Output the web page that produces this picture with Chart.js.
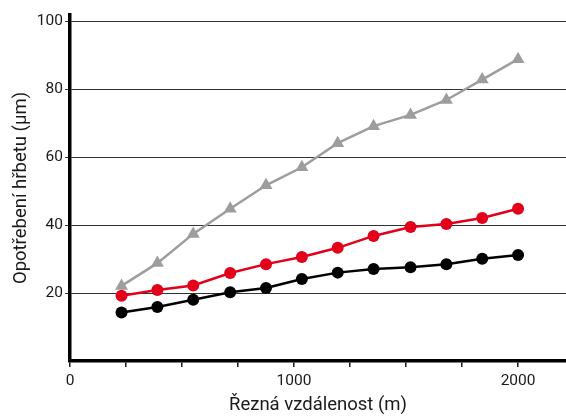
<!DOCTYPE html>
<html>
<head>
<meta charset="utf-8">
<script src="https://cdn.jsdelivr.net/npm/chart.js@4/dist/chart.umd.min.js"></script>
<style>
	html, body { margin: 0; padding: 0; background: #fff; }
	#wrap { width: 566px; height: 416px; }
</style>
</head>
<body>
<div id="wrap"><canvas id="chart"></canvas></div>
<script>
(() => {
	'use strict'

	// Cutting distance (m)
	const distance = [230, 390, 550, 715, 875, 1035, 1195, 1355, 1520, 1680, 1840, 2000];

	// Flank wear (µm) for each series
	const wearGray = [22.1, 28.8, 37.4, 44.8, 51.7, 57.0, 64.1, 69.1, 72.4, 76.8, 82.8, 88.8];
	const wearRed = [19.2, 20.9, 22.2, 25.9, 28.5, 30.6, 33.3, 36.8, 39.4, 40.3, 42.1, 44.8];
	const wearBlack = [14.3, 15.9, 18.0, 20.2, 21.5, 24.1, 26.0, 27.1, 27.6, 28.5, 30.1, 31.2];

	// Tick labels shown on the axes
	const xLabels = [0, 1000, 2000];
	const yTicks = [0, 20, 40, 60, 80, 100];

	const toPoints = (ys) => ys.map((y, i) => ({ x: distance[i], y: y }));

	const fontFamily = 'Roboto, "DejaVu Sans", sans-serif';

	const config = {
		type: 'scatter',
		data: {
			datasets: [
				{
					label: 'A',
					data: toPoints(wearGray),
					showLine: true,
					borderColor: '#9d9d9c',
					backgroundColor: '#9d9d9c',
					borderWidth: 2.5,
					pointStyle: 'triangle',
					pointRadius: 7.5,
					pointBorderWidth: 0,
				},
				{
					label: 'B',
					data: toPoints(wearRed),
					showLine: true,
					borderColor: '#e2001a',
					backgroundColor: '#e2001a',
					borderWidth: 2.5,
					pointRadius: 6,
					pointBorderWidth: 0,
				},
				{
					label: 'C',
					data: toPoints(wearBlack),
					showLine: true,
					borderColor: '#000000',
					backgroundColor: '#000000',
					borderWidth: 2.5,
					pointRadius: 6,
					pointBorderWidth: 0,
				}
			]
		},
		options: {
			responsive: true,
			maintainAspectRatio: false,
			animation: false,
			layout: {
				autoPadding: false,
				padding: { top: 15, right: 0, left: 0, bottom: 0 }
			},
			scales: {
				x: {
					type: 'linear',
					min: 0,
					max: 2214,
					afterFit: (scale) => {
						scale.height = 55;
						scale.paddingLeft = 0;
						scale.paddingRight = 0;
					},
					afterBuildTicks: (scale) => {
						const t = [];
						for (let v = 0; v <= 2000; v += 250) t.push({ value: v });
						scale.ticks = t;
					},
					ticks: {
						autoSkip: false,
						maxRotation: 0,
						padding: 5,
						color: '#1a1a1a',
						font: { family: fontFamily, size: 15.5 },
						callback: (v) => xLabels.includes(v) ? String(v) : '',
					},
					grid: {
						drawOnChartArea: false,
						drawTicks: true,
						tickLength: 6,
						color: '#1a1a1a',
						lineWidth: 1.5,
					},
					border: { display: true, color: '#000', width: 3.5 },
					title: {
						display: true,
						text: 'Řezná vzdálenost (m)',
						color: '#1a1a1a',
						font: { family: fontFamily, size: 18.5 },
						padding: { top: 0, bottom: 0 },
					}
				},
				y: {
					min: 0,
					max: 101.8,
					afterFit: (scale) => {
						scale.width = 70;
						scale.paddingTop = 0;
						scale.paddingBottom = 0;
					},
					afterBuildTicks: (scale) => {
						scale.ticks = yTicks.map((v) => ({ value: v }));
					},
					ticks: {
						autoSkip: false,
						padding: 2,
						color: '#1a1a1a',
						font: { family: fontFamily, size: 15.5 },
						callback: (v) => v === 0 ? '' : String(v),
					},
					grid: {
						color: (ctx) => ctx.tick && ctx.tick.value === 0 ? 'rgba(0,0,0,0)' : '#333',
						lineWidth: 1,
						tickLength: 5,
					},
					border: { display: true, color: '#000', width: 3.5 },
					title: {
						display: true,
						text: 'Opotřebení hřbetu (µm)',
						color: '#1a1a1a',
						font: { family: fontFamily, size: 18.5 },
						padding: { top: 10, bottom: 4 },
					}
				}
			},
			plugins: {
				legend: { display: false },
				title: { display: false },
				tooltip: { enabled: false }
			}
		}
	};

	new Chart(document.getElementById('chart'), config);
})()
</script>
</body>
</html>
